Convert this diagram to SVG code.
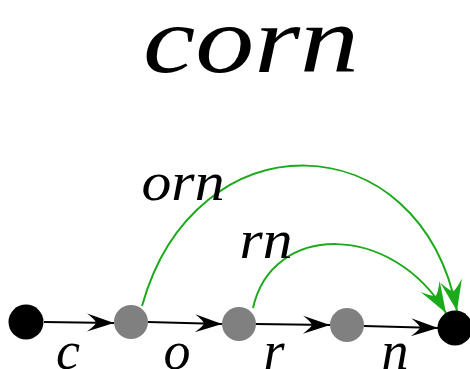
<svg xmlns="http://www.w3.org/2000/svg" width="470" height="369" viewBox="0 0 470 369">
<style>
  .lbl { font-family: "Liberation Serif", "DejaVu Serif", serif; font-style: italic; fill: #000; }
  .edge { stroke: #000; stroke-width: 2; fill: none; }
  .skip { stroke: #1aaa1a; stroke-width: 2; fill: none; }
  .black { fill: #000; }
  .gray { fill: #808080; }
</style>
<defs>
  <marker id="ah" markerUnits="userSpaceOnUse" markerWidth="30" markerHeight="22" viewBox="-28 -11 30 22" refX="0" refY="0" orient="auto">
    <path d="M0,0 L-27,-9 Q-19,-3 -18,0 Q-19,3 -27,9 Z" fill="#000"/>
  </marker>
  <marker id="ahg" markerUnits="userSpaceOnUse" markerWidth="34" markerHeight="26" viewBox="-32 -13 34 26" refX="0" refY="0" orient="auto">
    <path d="M0,0 L-31,-11 Q-21,-3 -20,0 Q-21,3 -31,11 Z" fill="#1aaa1a"/>
  </marker>
</defs>
<text class="lbl" x="251" y="72" font-size="96" text-anchor="middle" textLength="216" lengthAdjust="spacingAndGlyphs">corn</text>
<g id="connectors">
  <line class="edge" x1="44" y1="322" x2="114" y2="323" marker-end="url(#ah)"/>
  <line class="edge" x1="148" y1="322" x2="222" y2="324" marker-end="url(#ah)"/>
  <line class="edge" x1="256" y1="324" x2="330" y2="325" marker-end="url(#ah)"/>
  <line class="edge" x1="364" y1="326" x2="438" y2="328" marker-end="url(#ah)"/>
  <path class="skip" d="M142,306 C195,116 420,120 457,311" marker-end="url(#ahg)"/>
  <path class="skip" d="M253,308 C272,222 392,222 446,313" marker-end="url(#ahg)"/>
  <text class="lbl" x="68" y="369" font-size="54" text-anchor="middle">c</text>
  <text class="lbl" x="177" y="369" font-size="54" text-anchor="middle">o</text>
  <text class="lbl" x="274" y="369" font-size="54" text-anchor="middle">r</text>
  <text class="lbl" x="395" y="369" font-size="54" text-anchor="middle">n</text>
  <text class="lbl" x="183" y="200" font-size="54" text-anchor="middle" textLength="83" lengthAdjust="spacingAndGlyphs">orn</text>
  <text class="lbl" x="266" y="258" font-size="54" text-anchor="middle" textLength="53" lengthAdjust="spacingAndGlyphs">rn</text>
</g>
<g id="n0"><circle class="black" cx="26" cy="322" r="17.5"/></g>
<g id="n1"><circle class="gray" cx="131" cy="322" r="17"/></g>
<g id="n2"><circle class="gray" cx="239" cy="324" r="17"/></g>
<g id="n3"><circle class="gray" cx="347" cy="325" r="17"/></g>
<g id="n4"><circle class="black" cx="455" cy="328" r="17.5"/></g>
</svg>
